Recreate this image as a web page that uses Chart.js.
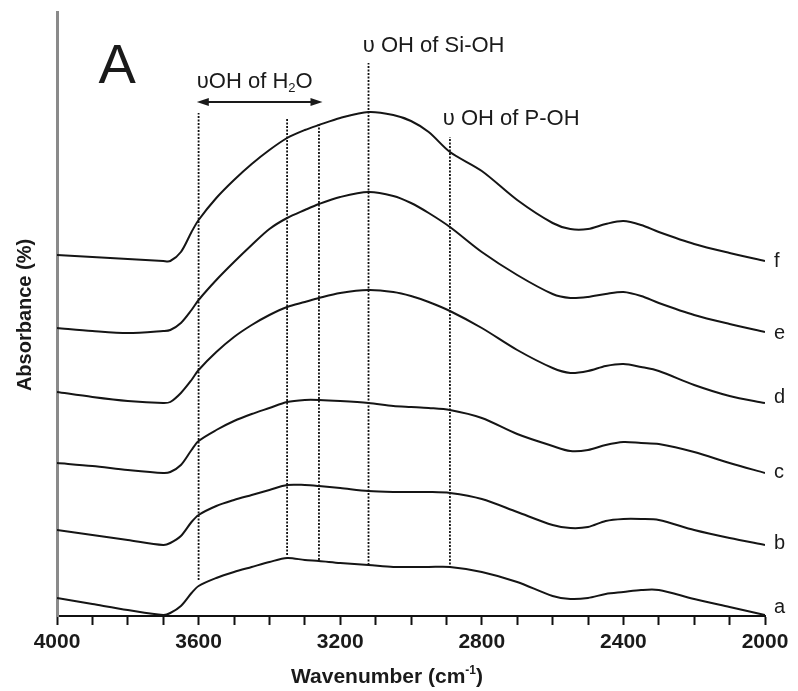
<!DOCTYPE html>
<html><head><meta charset="utf-8">
<script src="https://cdn.jsdelivr.net/npm/chart.js@4.4.1/dist/chart.umd.min.js"></script>
<style>html,body{margin:0;padding:0;background:#fff;} canvas{display:block}</style>
</head><body>
<canvas id="c" width="798" height="691"></canvas>
<script>
// Wavenumber grid (cm^-1)
const wavenumbers = [4000,3900,3800,3700,3680,3650,3620,3600,3550,3500,3450,3400,3350,3300,3260,3200,3120,3050,3000,2950,2890,2800,2700,2600,2550,2500,2450,2400,2350,2300,2200,2100,2000];
// Stacked absorbance spectra (arbitrary offset units)
const spectrumA = [0.18,0.12,0.06,0.01,0.03,0.10,0.23,0.30,0.38,0.44,0.49,0.54,0.58,0.56,0.55,0.53,0.51,0.49,0.49,0.49,0.49,0.44,0.34,0.20,0.17,0.18,0.22,0.24,0.26,0.26,0.17,0.09,0.01];
const spectrumB = [0.86,0.81,0.76,0.71,0.73,0.80,0.94,1.01,1.10,1.16,1.21,1.26,1.31,1.31,1.30,1.28,1.25,1.24,1.24,1.24,1.23,1.17,1.04,0.91,0.88,0.89,0.95,0.97,0.97,0.96,0.86,0.78,0.71];
const spectrumC = [1.53,1.50,1.46,1.43,1.44,1.51,1.66,1.75,1.86,1.95,2.02,2.08,2.14,2.16,2.16,2.15,2.13,2.10,2.09,2.08,2.06,1.98,1.82,1.70,1.65,1.66,1.71,1.74,1.73,1.72,1.64,1.53,1.43];
const spectrumD = [2.24,2.19,2.15,2.13,2.14,2.23,2.36,2.46,2.64,2.79,2.91,3.01,3.09,3.14,3.18,3.23,3.26,3.24,3.20,3.14,3.05,2.88,2.66,2.48,2.43,2.45,2.50,2.52,2.49,2.45,2.31,2.20,2.13];
const spectrumE = [2.88,2.85,2.83,2.85,2.86,2.93,3.06,3.16,3.36,3.54,3.71,3.87,3.98,4.06,4.12,4.19,4.24,4.20,4.13,4.03,3.89,3.64,3.41,3.22,3.18,3.19,3.22,3.24,3.20,3.13,3.01,2.92,2.84];
const spectrumF = [3.61,3.59,3.57,3.55,3.55,3.64,3.84,3.96,4.18,4.36,4.52,4.66,4.78,4.86,4.91,4.98,5.04,5.01,4.95,4.84,4.64,4.45,4.16,3.93,3.87,3.87,3.92,3.95,3.91,3.84,3.72,3.63,3.55];
const seriesNames = ['a','b','c','d','e','f'];
const seriesLabelY = [0.09,0.73,1.44,2.19,2.83,3.55];
// Band marker lines
const bandWavenumbers = [3600,3350,3260,3120,2890];
const bandTop = [5.03,4.98,4.91,5.53,4.79];
const bandBottom = [0.36,0.61,0.56,0.51,0.48];
// Tick labels
const xTickLabels = [4000,3600,3200,2800,2400,2000];

const spectra = [spectrumA,spectrumB,spectrumC,spectrumD,spectrumE,spectrumF];
const FONT = '"Liberation Sans", Arial, Helvetica, sans-serif';
const datasets = [];
spectra.forEach((s,i)=>{
  datasets.push({label:seriesNames[i], data: wavenumbers.map((w,k)=>({x:w,y:s[k]})),
    borderColor:'#151515', borderWidth:2, pointRadius:0, fill:false, tension:0.3});
});
bandWavenumbers.forEach((w,i)=>{
  datasets.push({label:'band'+w, data:[{x:w,y:bandBottom[i]},{x:w,y:bandTop[i]}],
    borderColor:'#111', borderWidth:1.8, borderDash:[2,1.5], pointRadius:0, fill:false});
});

const annot = {
  id:'annot',
  afterDraw(chart){
    const {ctx, scales:{x,y}} = chart;
    ctx.save();
    ctx.fillStyle = '#1a1a1a';
    ctx.strokeStyle = '#1a1a1a';
    ctx.textBaseline = 'alphabetic';
    // Panel letter
    ctx.font = '56px ' + FONT;
    ctx.textAlign = 'center';
    ctx.fillText('A', x.getPixelForValue(3830), y.getPixelForValue(5.33));
    // H2O label
    ctx.textAlign = 'left';
    ctx.font = '22px ' + FONT;
    let px = x.getPixelForValue(3605), py = y.getPixelForValue(5.28);
    const t1 = '\u03C5OH of H';
    ctx.fillText(t1, px, py); px += ctx.measureText(t1).width;
    ctx.font = '13px ' + FONT;
    ctx.fillText('2', px, py + 4); px += ctx.measureText('2').width;
    ctx.font = '22px ' + FONT;
    ctx.fillText('O', px, py);
    // Arrow
    const ax1 = x.getPixelForValue(3605), ax2 = x.getPixelForValue(3250), ay = y.getPixelForValue(5.14);
    ctx.lineWidth = 2;
    ctx.beginPath(); ctx.moveTo(ax1+6, ay); ctx.lineTo(ax2-6, ay); ctx.stroke();
    ctx.beginPath(); ctx.moveTo(ax1, ay); ctx.lineTo(ax1+12, ay-4); ctx.lineTo(ax1+12, ay+4); ctx.closePath(); ctx.fill();
    ctx.beginPath(); ctx.moveTo(ax2, ay); ctx.lineTo(ax2-12, ay-4); ctx.lineTo(ax2-12, ay+4); ctx.closePath(); ctx.fill();
    // Si-OH and P-OH labels
    ctx.font = '22px ' + FONT;
    ctx.fillText('\u03C5 OH of Si-OH', x.getPixelForValue(3136), y.getPixelForValue(5.64));
    ctx.fillText('\u03C5 OH of P-OH', x.getPixelForValue(2910), y.getPixelForValue(4.91));
    // Series labels
    ctx.font = '20px ' + FONT;
    ctx.textBaseline = 'middle';
    seriesNames.forEach((n,i)=>{
      ctx.fillText(n, x.getPixelForValue(2000) + 9, y.getPixelForValue(seriesLabelY[i]));
    });
    // Axis titles
    ctx.textBaseline = 'alphabetic';
    const p1 = 'Wavenumber (cm', p2 = ')';
    ctx.font = 'bold 21px ' + FONT;
    const w1 = ctx.measureText(p1).width;
    ctx.font = 'bold 12px ' + FONT;
    const ws = ctx.measureText('-1').width;
    ctx.font = 'bold 21px ' + FONT;
    const w2 = ctx.measureText(p2).width;
    let tx = 387 - (w1+ws+w2)/2, ty = 683;
    ctx.fillText(p1, tx, ty); tx += w1;
    ctx.font = 'bold 12px ' + FONT;
    ctx.fillText('-1', tx, ty - 9); tx += ws;
    ctx.font = 'bold 21px ' + FONT;
    ctx.fillText(p2, tx, ty);
    // Y title
    ctx.save();
    ctx.translate(25, 315);
    ctx.rotate(-Math.PI/2);
    ctx.textAlign = 'center'; ctx.textBaseline = 'middle';
    ctx.font = 'bold 20px ' + FONT;
    ctx.fillText('Absorbance (%)', 0, 0);
    ctx.restore();
    ctx.restore();
  }
};

new Chart(document.getElementById('c'), {
  type:'line',
  data:{datasets},
  options:{
    responsive:false, devicePixelRatio:1, animation:false,
    layout:{padding:{left:0, top:12, right:33, bottom:0}},
    plugins:{legend:{display:false}, tooltip:{enabled:false}},
    scales:{
      x:{type:'linear', reverse:true, min:2000, max:4000,
        afterFit:(s)=>{ s.height = 75; },
        border:{color:'#111', width:2},
        grid:{display:true, drawOnChartArea:false, drawTicks:true, tickLength:9, tickWidth:2, tickColor:'#111'},
        ticks:{stepSize:100, autoSkip:false, maxRotation:0, padding:5, color:'#1a1a1a',
          font:{family:FONT, size:21, weight:'bold'},
          callback:(v)=> xTickLabels.includes(v) ? String(v) : ''}
      },
      y:{type:'linear', min:0, max:6.04,
        afterFit:(s)=>{ s.width = 57; },
        border:{color:'#8a8a8a', width:3},
        grid:{display:false},
        ticks:{display:false}
      }
    }
  },
  plugins:[annot]
});
</script>
</body></html>
